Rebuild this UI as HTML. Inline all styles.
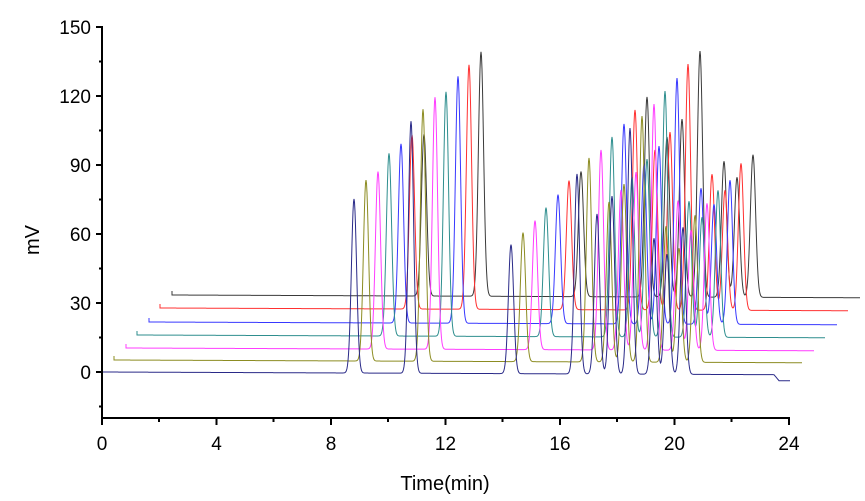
<!DOCTYPE html>
<html><head><meta charset="utf-8"><style>
html,body{margin:0;padding:0;background:#fff;width:865px;height:501px;overflow:hidden}
svg{display:block}
text{font-family:"Liberation Sans",Arial,sans-serif;fill:#000}
</style></head><body>
<svg id="s" width="865" height="501" viewBox="0 0 865 501" xmlns="http://www.w3.org/2000/svg">
<g id="traces" fill="none" stroke-width="1"></g>
<g stroke="#000" stroke-width="2" fill="none">
<path d="M102,26 V419 M101,418 H790"/>
<path d="M96,27 H102 M96,96 H102 M96,165 H102 M96,234 H102 M96,303 H102 M96,372 H102"/>
<path d="M99,61.5 H102 M99,130.5 H102 M99,199.5 H102 M99,268.5 H102 M99,337.5 H102 M99,406.5 H102"/>
<path d="M102,418 V425 M216.5,418 V425 M331,418 V425 M445.5,418 V425 M560,418 V425 M674.5,418 V425 M789,418 V425"/>
<path d="M159,418 V422 M273.5,418 V422 M388,418 V422 M502.5,418 V422 M617,418 V422 M731.5,418 V422"/>
</g>
<g font-size="19" text-anchor="end">
<text x="91" y="34">150</text><text x="91" y="103">120</text><text x="91" y="172">90</text>
<text x="91" y="241">60</text><text x="91" y="310">30</text><text x="91" y="379">0</text>
</g>
<g font-size="19" text-anchor="middle">
<text x="102" y="450">0</text><text x="216.5" y="450">4</text><text x="331" y="450">8</text>
<text x="445.5" y="450">12</text><text x="560" y="450">16</text><text x="674.5" y="450">20</text><text x="789" y="450">24</text>
</g>
<text x="445" y="490" font-size="20" text-anchor="middle">Time(min)</text>
<text transform="translate(39,240) rotate(-90)" font-size="20" text-anchor="middle">mV</text>
</svg>
<script>
(function(){
var g=document.getElementById('traces');
var cols=['#2a2a88','#8c8c22','#ff3cff','#2e8e8e','#3838ff','#ff3030','#3a3a3a'];
var peaks=[[354,174],[411,252],[511,129],[577,200],[597,160],[612,178],[630,246],[654,136],[667,120],[683,147]];
var starts=[102,114,126,137,149,160,172];
var bases=[372,360,348,335,322,308,295];
var vary=[[1,1,1,1,1,1,1,1,1,1],[1.04,1.0,1,1.02,1,1,1,1,0.95,1],[1.02,1.0,1,1,1,1,1,1.1,1,1],[1.05,0.97,1,1,1,1,1,1,1,1],[1.03,0.98,1,1,1,1,1,1,1,0.98],[1,0.97,1,1,1,1,1,1,1,1],[0.93,0.97,0.97,1,1,1,1,1,1,0.97]];
for(var k=6;k>=0;k--){
 var dx=starts[k]-102, b=bases[k], d='';
 var x0=starts[k];
 var xe=(k==0)?790:790+dx;
 d='M'+x0+','+(k==0?b:b-4)+' L'+x0+','+b;
 for(var x=x0;x<=xe;x+=0.5){
  var y=b+(x-x0)*0.004;
  for(var i=0;i<peaks.length;i++){
   var px=peaks[i][0]+dx, h=peaks[i][1]*vary[k][i];
   var t=(x-px)/2.6;
   if(Math.abs(t)<8) y-=h*Math.exp(-t*t/2);
  }
  if(k==0 && x>774){y+=Math.min(6,(x-774)*1.2);}
  d+=' L'+x.toFixed(1)+','+y.toFixed(2);
 }
 var p=document.createElementNS('http://www.w3.org/2000/svg','path');
 p.setAttribute('d',d);p.setAttribute('stroke',cols[k]);
 g.appendChild(p);
}
})();
</script>
</body></html>
